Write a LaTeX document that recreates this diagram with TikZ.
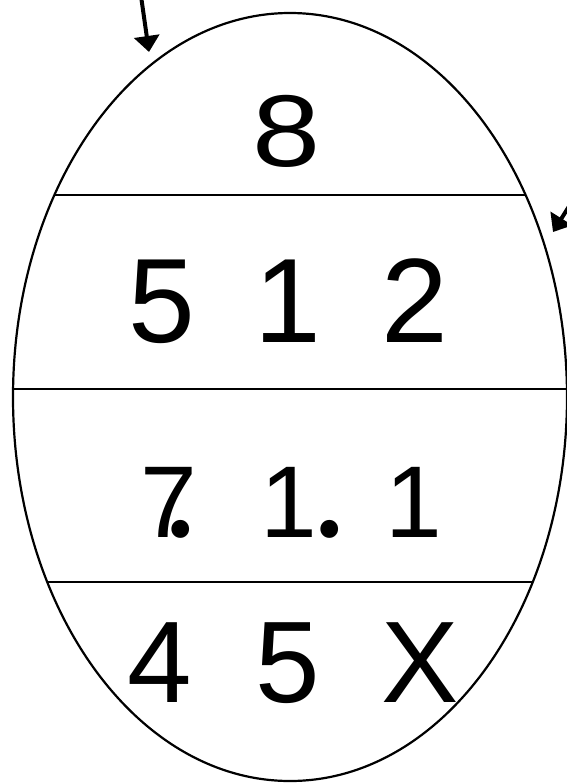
\documentclass[tikz,border=0pt]{standalone}
\usepackage{fontspec}
\setmainfont{Liberation Sans}
\newfontfamily\dotfont{Poppins}
\usetikzlibrary{arrows.meta, shapes.geometric}

\newcommand{\bigdot}{{\dotfont\fontsize{145}{145}\selectfont .}}

\begin{document}
\begin{tikzpicture}[
        x=1pt, y=-1pt,
        eggshape/.style={
            draw,
            ellipse,
            line width=2.2pt,
            inner sep=0pt,
            minimum width=554pt,
            minimum height=768pt
        },
        divider/.style={line width=2.2pt},
        rowtext/.style={anchor=base west, inner sep=0pt},
        pointer/.style={-{Triangle[length=16pt, width=25pt]}, line width=4pt}
    ]
        \useasboundingbox (0,0) rectangle (566,784);
        \node[eggshape] (egg) at (290,397) {};

        % dividers, cut off at the egg's outline
        \begin{scope}
            \clip (egg.center) ellipse [x radius=277pt, y radius=384pt];
            \foreach \rowy in {195,389,582}
                \draw[divider] (0,\rowy) -- (566,\rowy);
        \end{scope}

        \node[rowtext, xscale=1.2, transform shape, font=\fontsize{102}{102}\selectfont] (first) at (252,166) {8};
        \node[rowtext, font=\fontsize{120}{120}\selectfont] (second) at (128,342) {5\enspace 1\enspace 2};
        \node[rowtext, font=\fontsize{102}{102}\selectfont] (third) at (140,537) {7\kern-31pt\bigdot\hspace{64pt}1\kern-3pt\bigdot\hspace{41pt}1};
        \node[rowtext, font=\fontsize{116}{116}\selectfont] (fourth) at (127,702) {4\hspace{.55em}5\hspace{.53em}X};

        \coordinate (leftstart) at (141,-4);
        \coordinate (lefttip) at (149,52);
        \coordinate (rightstart) at (578,192);
        \coordinate (righttip) at (553,232);
        \draw[pointer] (leftstart) -- (lefttip);
        \draw[pointer] (rightstart) -- (righttip);
\end{tikzpicture}
\end{document}
